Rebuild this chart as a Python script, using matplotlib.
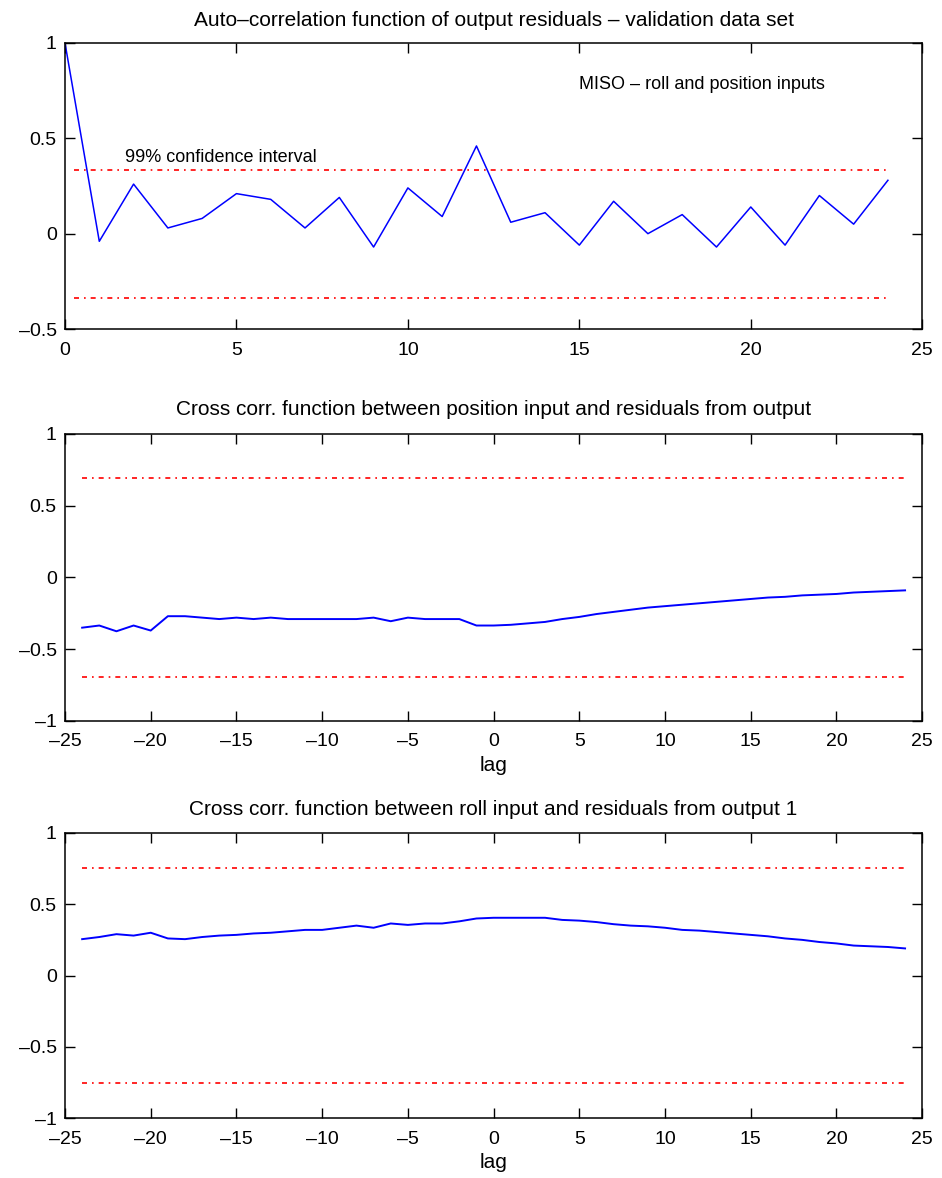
import numpy as np
import matplotlib
matplotlib.use("Agg")
import matplotlib.pyplot as plt
from matplotlib.ticker import FuncFormatter

plt.rcParams['font.family'] = ['Liberation Sans', 'DejaVu Sans']

# auto-correlation of output residuals, lags 0..24
acf_lags = np.arange(0, 25)
acf_vals = [1.0, -0.04, 0.26, 0.03, 0.08, 0.21, 0.18, 0.03, 0.19, -0.07,
            0.24, 0.09, 0.46, 0.06, 0.11, -0.06, 0.17, 0.0, 0.10, -0.07,
            0.14, -0.06, 0.20, 0.05, 0.28]
acf_conf = 0.335
acf_conf_span = [0.25, 24]

# cross correlations, lags -24..24
cc_lags = np.arange(-24, 25)
cc_position = [-0.35, -0.335, -0.375, -0.335, -0.37, -0.27, -0.27, -0.28, -0.29,
               -0.28, -0.29, -0.28, -0.29, -0.29, -0.29, -0.29, -0.29, -0.28,
               -0.305, -0.28, -0.29, -0.29, -0.29, -0.335, -0.335, -0.33, -0.32,
               -0.31, -0.29, -0.275, -0.255, -0.24, -0.225, -0.21, -0.20, -0.19,
               -0.18, -0.17, -0.16, -0.15, -0.14, -0.135, -0.125, -0.12, -0.115,
               -0.105, -0.10, -0.095, -0.09]
cc_position_conf = 0.695
cc_roll = [0.255, 0.27, 0.29, 0.28, 0.30, 0.26, 0.255, 0.27, 0.28, 0.285, 0.295,
           0.30, 0.31, 0.32, 0.32, 0.335, 0.35, 0.335, 0.365, 0.355, 0.365, 0.365,
           0.38, 0.40, 0.405, 0.405, 0.405, 0.405, 0.39, 0.385, 0.375, 0.36, 0.35,
           0.345, 0.335, 0.32, 0.315, 0.305, 0.295, 0.285, 0.275, 0.26, 0.25,
           0.235, 0.225, 0.21, 0.205, 0.20, 0.19]
cc_roll_conf = 0.755
cc_conf_span = [-24, 24]

BLUE = '#0000ff'
RED = '#ff0000'
DOTS = (0, (3, 3, 1, 3))
TICK_FS = 14
TITLE_FS = 15
NOTE_FS = 13


def fmt(v, pos):
    return f'{v:g}'.replace('-', '\u2013')


def style(ax, xlim, ylim, xticks, yticks):
    ax.set_xlim(*xlim)
    ax.set_ylim(*ylim)
    ax.set_xticks(xticks)
    ax.set_yticks(yticks)
    ax.xaxis.set_major_formatter(FuncFormatter(fmt))
    ax.yaxis.set_major_formatter(FuncFormatter(fmt))
    ax.tick_params(direction='in', top=True, right=True, length=7,
                   width=1, labelsize=TICK_FS)
    ax.tick_params(axis='x', pad=9)
    ax.tick_params(axis='y', pad=6)
    for s in ax.spines.values():
        s.set_linewidth(1.1)


fig = plt.figure(figsize=(9.42, 11.78), dpi=100)
ax1 = fig.add_axes([0.069, 0.7207, 0.91, 0.2428])
ax2 = fig.add_axes([0.069, 0.388, 0.91, 0.2436])
ax3 = fig.add_axes([0.069, 0.0509, 0.91, 0.2420])

# top: auto-correlation
ax1.plot(acf_lags, acf_vals, color=BLUE, lw=1.1)
ax1.plot(acf_conf_span, [acf_conf, acf_conf], color=RED, lw=1.2, ls=DOTS)
ax1.plot(acf_conf_span, [-acf_conf, -acf_conf], color=RED, lw=1.2, ls=DOTS)
ax1.text(1.75, 0.375, '99% confidence interval', fontsize=NOTE_FS)
ax1.text(15.0, 0.76, 'MISO \u2013 roll and position inputs', fontsize=NOTE_FS)
style(ax1, (0, 25), (-0.5, 1), np.arange(0, 26, 5), [-0.5, 0, 0.5, 1])
ax1.set_title('Auto\u2013correlation function of output residuals \u2013 validation data set',
              fontsize=TITLE_FS, pad=12)

# middle: position input vs residuals
ax2.plot(cc_lags, cc_position, color=BLUE, lw=1.4)
ax2.plot(cc_conf_span, [cc_position_conf] * 2, color=RED, lw=1.2, ls=DOTS)
ax2.plot(cc_conf_span, [-cc_position_conf] * 2, color=RED, lw=1.2, ls=DOTS)
style(ax2, (-25, 25), (-1, 1), np.arange(-25, 26, 5), [-1, -0.5, 0, 0.5, 1])
ax2.set_title('Cross corr. function between position input and residuals from output',
              fontsize=TITLE_FS, pad=14)
ax2.set_xlabel('lag', fontsize=TITLE_FS, labelpad=4)

# bottom: roll input vs residuals
ax3.plot(cc_lags, cc_roll, color=BLUE, lw=1.4)
ax3.plot(cc_conf_span, [cc_roll_conf] * 2, color=RED, lw=1.2, ls=DOTS)
ax3.plot(cc_conf_span, [-cc_roll_conf] * 2, color=RED, lw=1.2, ls=DOTS)
style(ax3, (-25, 25), (-1, 1), np.arange(-25, 26, 5), [-1, -0.5, 0, 0.5, 1])
ax3.set_title('Cross corr. function between roll input and residuals from output 1',
              fontsize=TITLE_FS, pad=13)
ax3.set_xlabel('lag', fontsize=TITLE_FS, labelpad=4)

fig.savefig('out.png', dpi=100)
